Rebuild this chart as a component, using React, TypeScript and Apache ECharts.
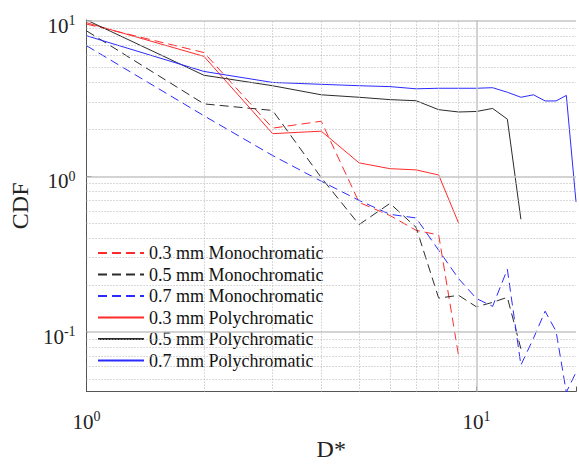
import React, { useEffect, useRef } from "react";
import * as echarts from "echarts";

const dValues = [1, 2, 3, 4, 5, 6, 7, 8, 9, 10, 11, 12, 13, 14, 15, 16, 17, 18];

const mono03 = [9.5, 6.24, 2.04, 2.26, 0.68, 0.56, 0.45, 0.42, 0.07];
const mono05 = [8.6, 2.92, 2.65, 0.98, 0.49, 0.67, 0.47, 0.165, 0.172, 0.145, 0.155, 0.167, 0.078];
const mono07 = [6.9, 2.45, 1.36, 0.93, 0.7, 0.57, 0.54, 0.335, 0.22, 0.164, 0.146, 0.253, 0.0613, 0.091, 0.136, 0.101, 0.041, 0.055];
const poly03 = [9.7, 5.9, 1.88, 1.95, 1.22, 1.12, 1.1, 1.02, 0.5];
const poly05 = [10.1, 4.46, 3.82, 3.34, 3.22, 3.11, 3.06, 2.68, 2.59, 2.61, 2.73, 2.33, 0.53];
const poly07 = [8.0, 4.72, 4.01, 3.9, 3.82, 3.77, 3.65, 3.68, 3.68, 3.68, 3.71, 3.47, 3.22, 3.34, 3.05, 3.05, 3.31, 0.685];

const seriesNames = [
  "0.3 mm Monochromatic",
  "0.5 mm Monochromatic",
  "0.7 mm Monochromatic",
  "0.3 mm Polychromatic",
  "0.5 mm Polychromatic",
  "0.7 mm Polychromatic",
];

const xMajorGrid = [10];
const xMinorGrid = [2, 3, 4, 5, 6, 7, 8, 9];
const yMajorGrid = [0.1, 1, 10];
const yMinorGrid = [0.05, 0.06, 0.07, 0.08, 0.09, 0.2, 0.3, 0.4, 0.5, 0.6, 0.7, 0.8, 0.9, 2, 3, 4, 5, 6, 7, 8, 9];

const FONT = "Liberation Serif";
const RED = "#ff2b2b";
const BLACK = "#2b2b2b";
const BLUE = "#2b2bff";

function pairs(vals: number[]) {
  return vals.map((v, i) => [dValues[i], v]);
}

function powLabel(v: number) {
  const l = Math.log10(v);
  const e = Math.round(l);
  if (Math.abs(l - e) > 1e-6) return "";
  return "{b|10}{s|" + e + "}";
}

export default function App() {
  const ref = useRef<HTMLDivElement>(null);

  useEffect(() => {
    if (!ref.current) return;
    const chart = echarts.init(ref.current, null, { renderer: "svg" });

    const minorStyle = { color: "#b4b4b4", width: 1, type: [1, 2] as any };
    const majorStyle = { color: "#c4c4c4", width: 1.5, type: "solid" as any };

    const gridLines: any[] = [];
    yMinorGrid.forEach((v) => gridLines.push({ yAxis: v, lineStyle: minorStyle }));
    xMinorGrid.forEach((v) => gridLines.push({ xAxis: v, lineStyle: minorStyle }));
    yMajorGrid.forEach((v) => gridLines.push({ yAxis: v, lineStyle: majorStyle }));
    xMajorGrid.forEach((v) => gridLines.push({ xAxis: v, lineStyle: majorStyle }));

    const mk = (name: string, vals: number[], color: string, dashed: boolean) => ({
      name,
      type: "line",
      data: pairs(vals),
      symbol: "none",
      showSymbol: false,
      z: 3,
      lineStyle: { color, width: 1, type: dashed ? [9, 5] : "solid" },
      itemStyle: { color },
    });

    const rich = {
      b: { fontSize: 21, fontFamily: FONT, color: "#222", lineHeight: 24 },
      s: { fontSize: 14, fontFamily: FONT, color: "#222", lineHeight: 9, verticalAlign: "top" },
    };

    chart.setOption({
      animation: false,
      backgroundColor: "#fff",
      grid: { left: 75, right: 1, top: 20, bottom: 64, containLabel: false },
      legend: {
        data: seriesNames,
        orient: "vertical",
        left: 88,
        top: 236,
        backgroundColor: "#fff",
        padding: [8, 10, 8, 9],
        itemWidth: 46,
        itemHeight: 12,
        itemGap: 3.5,
        itemStyle: { opacity: 0, color: "transparent", borderWidth: 0 },
        textStyle: { fontFamily: FONT, fontSize: 18, color: "#111", lineHeight: 18 },
      },
      xAxis: {
        type: "log",
        logBase: 10,
        min: 1,
        max: 18,
        name: "D*",
        nameLocation: "middle",
        nameGap: 44,
        nameTextStyle: { fontFamily: FONT, fontSize: 24, color: "#222" },
        axisLine: { show: true, lineStyle: { color: "#555", width: 1 } },
        axisTick: { show: true, inside: true, length: 5, lineStyle: { color: "#555" } },
        splitLine: { show: false },
        axisLabel: { formatter: powLabel, margin: 18, rich },
      },
      yAxis: {
        type: "log",
        logBase: 10,
        min: 0.0414,
        max: 10.1,
        name: "CDF",
        nameLocation: "middle",
        nameRotate: 90,
        nameGap: 50,
        nameTextStyle: { fontFamily: FONT, fontSize: 24, color: "#222" },
        axisLine: { show: true, lineStyle: { color: "#555", width: 1 } },
        axisTick: { show: true, inside: true, length: 5, lineStyle: { color: "#555" } },
        splitLine: { show: false },
        axisLabel: { formatter: powLabel, margin: 11, rich, padding: [10, 0, 0, 0] },
      },
      series: [
        {
          name: "_grid",
          type: "line",
          data: [],
          z: 1,
          silent: true,
          markLine: {
            silent: true,
            symbol: ["none", "none"],
            label: { show: false },
            emphasis: { disabled: true },
            animation: false,
            data: gridLines,
          },
        },
        mk(seriesNames[0], mono03, RED, true),
        mk(seriesNames[1], mono05, BLACK, true),
        mk(seriesNames[2], mono07, BLUE, true),
        mk(seriesNames[3], poly03, RED, false),
        mk(seriesNames[4], poly05, BLACK, false),
        mk(seriesNames[5], poly07, BLUE, false),
      ],
    });

    return () => chart.dispose();
  }, []);

  return (
    <div
      ref={ref}
      style={{ position: "fixed", left: 0, top: 0, width: 579, height: 466, background: "#fff" }}
    />
  );
}
